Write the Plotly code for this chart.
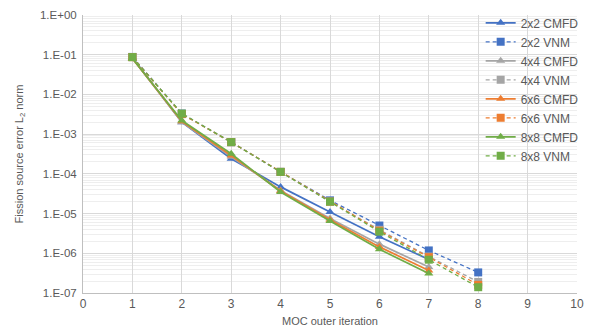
import plotly.graph_objects as go

iters_cmfd = [1, 2, 3, 4, 5, 6, 7]
iters_vnm = [1, 2, 3, 4, 5, 6, 7, 8]

cmfd_2x2 = [8.5e-2, 2.0e-3, 2.4e-4, 4.7e-5, 1.1e-5, 2.6e-6, 7.0e-7]
vnm_2x2 = [8.8e-2, 3.3e-3, 6.3e-4, 1.12e-4, 2.15e-5, 5.0e-6, 1.18e-6, 3.3e-7]
cmfd_4x4 = [8.2e-2, 2.0e-3, 2.7e-4, 3.8e-5, 7.5e-6, 1.7e-6, 4.5e-7]
vnm_4x4 = [8.7e-2, 3.2e-3, 6.3e-4, 1.12e-4, 2.0e-5, 3.9e-6, 8.3e-7, 1.9e-7]
cmfd_6x6 = [8.0e-2, 2.1e-3, 2.9e-4, 3.7e-5, 7.0e-6, 1.45e-6, 3.7e-7]
vnm_6x6 = [8.7e-2, 3.2e-3, 6.3e-4, 1.12e-4, 2.0e-5, 3.7e-6, 8.0e-7, 1.6e-7]
cmfd_8x8 = [8.0e-2, 2.2e-3, 3.2e-4, 3.5e-5, 6.5e-6, 1.26e-6, 3.1e-7]
vnm_8x8 = [8.7e-2, 3.3e-3, 6.3e-4, 1.12e-4, 2.0e-5, 3.5e-6, 6.9e-7, 1.4e-7]

x_ticks = list(range(0, 11))
y_tickvals = [1e0, 1e-1, 1e-2, 1e-3, 1e-4, 1e-5, 1e-6, 1e-7]
y_ticktext = ["1.E+00", "1.E-01", "1.E-02", "1.E-03", "1.E-04", "1.E-05", "1.E-06", "1.E-07"]

colors = {"2x2": "#4472C4", "4x4": "#A5A5A5", "6x6": "#ED7D31", "8x8": "#70AD47"}

series = [
    ("2x2 CMFD", iters_cmfd, cmfd_2x2, "2x2", "triangle-up", "solid"),
    ("2x2 VNM", iters_vnm, vnm_2x2, "2x2", "square", "dash"),
    ("4x4 CMFD", iters_cmfd, cmfd_4x4, "4x4", "triangle-up", "solid"),
    ("4x4 VNM", iters_vnm, vnm_4x4, "4x4", "square", "dash"),
    ("6x6 CMFD", iters_cmfd, cmfd_6x6, "6x6", "triangle-up", "solid"),
    ("6x6 VNM", iters_vnm, vnm_6x6, "6x6", "square", "dash"),
    ("8x8 CMFD", iters_cmfd, cmfd_8x8, "8x8", "triangle-up", "solid"),
    ("8x8 VNM", iters_vnm, vnm_8x8, "8x8", "square", "dash"),
]

fig = go.Figure()
for name, xs, ys, key, sym, dash in series:
    fig.add_trace(go.Scatter(
        x=xs, y=ys, name=name, mode="lines+markers",
        line=dict(color=colors[key], width=1.7 if dash == "solid" else 1.3,
                  dash="solid" if dash == "solid" else "4px,3px"),
        marker=dict(symbol=sym, size=8, color=colors[key]),
    ))

font_col = "#595959"
fig.update_layout(
    width=592, height=330,
    margin=dict(l=75, r=23, t=7, b=45, autoexpand=False),
    paper_bgcolor="white", plot_bgcolor="white",
    font=dict(family="Liberation Sans, Arial, sans-serif", size=11, color=font_col),
    showlegend=True,
    legend=dict(x=0.805, y=1.024, xanchor="left", yanchor="top",
                bgcolor="rgba(0,0,0,0)", font=dict(size=12, color=font_col),
                tracegroupgap=0, itemwidth=30),
    xaxis=dict(
        range=[0, 10], tickvals=x_ticks, ticks="", showgrid=True, automargin=False,
        gridcolor="#D9D9D9", gridwidth=1, showline=True, linecolor="#BFBFBF",
        zeroline=False, tickfont=dict(size=12),
        title=dict(text="MOC outer iteration", font=dict(size=11, color=font_col), standoff=6),
    ),
    yaxis=dict(
        type="log", range=[-7, 0], tickvals=y_tickvals, ticktext=y_ticktext,
        ticks="", showgrid=True, gridcolor="#D9D9D9", gridwidth=1, automargin=False,
        showline=True, linecolor="#BFBFBF", zeroline=False, tickfont=dict(size=11.5),
        ticklabelstandoff=3,
        minor=dict(dtick="D1", showgrid=True, gridcolor="#EEEEEE", gridwidth=1),
        title=dict(text="Fission source error L<sub>2</sub> norm",
                   font=dict(size=11, color=font_col), standoff=14),
    ),
)

fig.write_html("out.html")
